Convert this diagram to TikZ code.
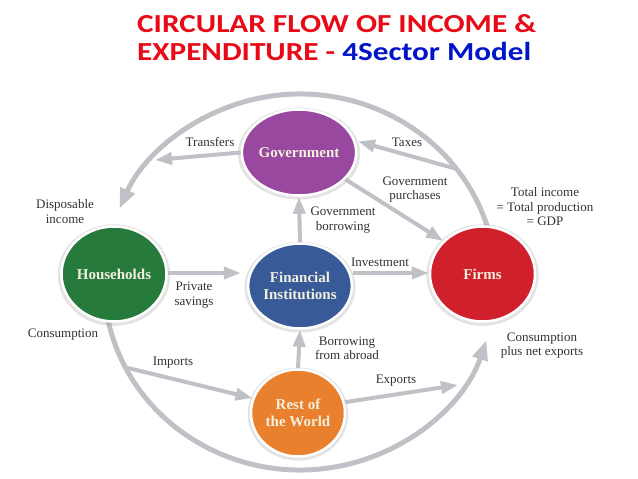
\documentclass[tikz,border=0pt]{standalone}
\usepackage{fontspec}
\setmainfont{Liberation Serif}
\newfontfamily\titlefont{Carlito}
\usetikzlibrary{arrows.meta,shapes.geometric,shadows}
\definecolor{govpurple}{RGB}{153,72,160}
\definecolor{finblue}{RGB}{56,90,152}
\definecolor{hhgreen}{RGB}{38,122,60}
\definecolor{firmred}{RGB}{208,32,44}
\definecolor{roworange}{RGB}{233,128,46}
\definecolor{flowgray}{RGB}{192,193,198}
\definecolor{lbltext}{RGB}{50,50,50}
\definecolor{sectortext}{RGB}{242,240,222}
\definecolor{titlered}{RGB}{232,10,22}
\definecolor{titleblue}{RGB}{0,20,200}

\begin{document}
\begin{tikzpicture}[x=1pt,y=1pt,
		sector/.style={ellipse, draw=white, line width=2.5pt, inner sep=0pt, align=center,
			text=sectortext, font=\fontsize{15}{17}\selectfont\bfseries,
			drop shadow={opacity=0.22, shadow xshift=0pt, shadow yshift=-1pt, shadow scale=1.07}},
		lbl/.style={align=center, text=lbltext, font=\fontsize{13}{14.5}\selectfont},
		flow/.style={draw=flowgray, line width=4pt, -{Triangle[length=17pt,width=12pt]}},
		ring/.style={draw=flowgray, line width=5pt, -{Triangle[length=20pt,width=15pt]}},
		headline/.style={anchor=base west, inner sep=0pt, xscale=1.2, transform shape,
			font=\titlefont\bfseries\fontsize{26}{28}\selectfont}]
	\def\rx{196}
	\def\ry{188}
	\useasboundingbox (0,0) rectangle (638,-479);
	
	% Title
	\node[headline, text=titlered] (title1) at (137,-32) {CIRCULAR FLOW OF INCOME \&};
	\node[headline, text=titlered] (title2) at (137,-60) {EXPENDITURE - \textcolor{titleblue}{4Sector Model}};
	
	% Outer ring
	\coordinate (ringc) at (300,-282);
	\path (ringc) ++(15:{\rx} and {\ry}) coordinate (ringNE);
	\path (ringc) ++(192:{\rx} and {\ry}) coordinate (ringSW);
	\path (ringc) ++(37:{\rx} and {\ry}) coordinate (taxstart);
	\path (ringc) ++(207:{\rx} and {\ry}) coordinate (importstart);
	\draw[ring] (ringNE) arc[start angle=15, end angle=157, x radius=\rx, y radius=\ry];
	\draw[ring] (ringSW) arc[start angle=192, end angle=342, x radius=\rx, y radius=\ry];
	
	% Sectors
	\node[sector, fill=govpurple, minimum width=99, minimum height=86] (gov) at (299,-152.5) {Government};
	\node[sector, fill=finblue, minimum width=91, minimum height=85] (fin) at (300,-286) {Financial\\Institutions};
	\node[sector, fill=hhgreen, minimum width=105, minimum height=95] (hh) at (114,-274) {Households};
	\node[sector, fill=firmred, minimum width=105, minimum height=95] (firms) at (482.5,-274) {Firms};
	\node[sector, fill=roworange, minimum width=94, minimum height=87] (row) at (298,-413) {Rest of\\the World};
	
	% Flows
	\coordinate (transferend) at (155,-160);
	\coordinate (exportend) at (458,-385);
	\draw[flow] (gov.west) -- (transferend);
	\draw[flow, shorten >=3pt] (taxstart) -- (gov.12);
	\draw[flow] (gov.-30) -- (firms.140);
	\draw[flow] (fin.north) -- (gov.south);
	\draw[flow, shorten >=6pt] (hh.east |- 0,-273) -- (fin.west |- 0,-273);
	\draw[flow] (fin.east |- 0,-273) -- (firms.west |- 0,-273);
	\draw[flow] (row.north) -- (fin.south);
	\draw[flow] (importstart) -- (row.162);
	\draw[flow] (row.13) -- (exportend);
	
	% Labels
	\node[lbl] (transfers) at (210,-142) {Transfers};
	\node[lbl] (taxes) at (407,-142) {Taxes};
	\node[lbl] (govpurch) at (415,-189.5) {Government\\purchases};
	\node[lbl] (govborrow) at (343,-220) {Government\\borrowing};
	\node[lbl] (invest) at (380,-262) {Investment};
	\node[lbl] (savings) at (194,-295) {Private\\savings};
	\node[lbl] (disposable) at (65,-211.5) {Disposable\\income};
	\node[lbl] (gdp) at (545,-207) {Total income\\= Total production\\= GDP};
	\node[lbl] (consump) at (63,-335) {Consumption};
	\node[lbl] (consumpnx) at (542,-345.5) {Consumption\\plus net exports};
	\node[lbl] (imports) at (173,-363) {Imports};
	\node[lbl] (abroad) at (347,-348.5) {Borrowing\\from abroad};
	\node[lbl] (exports) at (396,-381) {Exports};
\end{tikzpicture}
\end{document}
